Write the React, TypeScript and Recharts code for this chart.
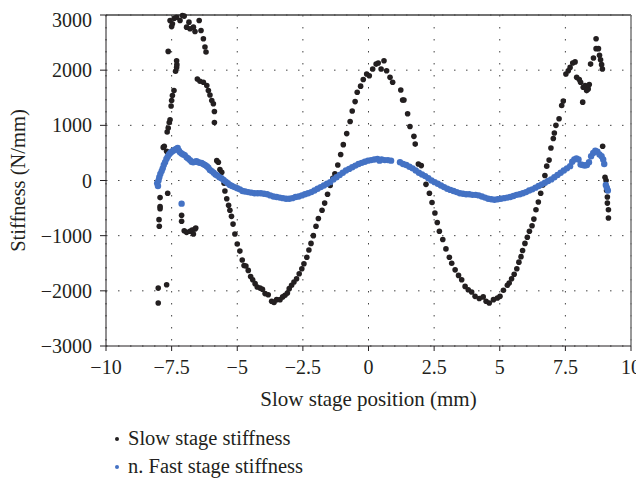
import { CartesianGrid, ReferenceLine, Scatter, ScatterChart, XAxis, YAxis } from "recharts";

const seriesNames = ["Slow stage stiffness", "n. Fast stage stiffness"];
const xTicks = [-10, -7.5, -5, -2.5, 0, 2.5, 5, 7.5, 10];
const yTicks = [-3000, -2000, -1000, 0, 1000, 2000, 3000];

// [position mm, stiffness N/mm]
const slowStage: [number, number][] = [
  [-8.01, -2220], [-8.01, -1950], [-7.69, -1890],
  [-7.97, -830], [-7.98, -710], [-7.94, -510], [-7.94, -470], [-7.94, -310], [-7.65, -230],
  [-7.82, 600], [-7.78, 620], [-7.69, 530],
  [-7.67, 880], [-7.63, 950], [-7.59, 1050], [-7.56, 1100], [-7.52, 1350], [-7.5, 1450],
  [-7.47, 1540], [-7.41, 1630], [-7.35, 1980], [-7.31, 2050], [-7.3, 2100], [-7.31, 2170], [-7.63, 2340],
  [-7.56, 2900], [-7.5, 2790], [-7.47, 2840], [-7.4, 2940], [-7.31, 2960], [-7.18, 2900],
  [-7.09, 2990], [-7.02, 2980], [-6.93, 2780], [-6.84, 2870], [-6.8, 2750], [-6.67, 2780],
  [-6.61, 2700], [-6.45, 2900], [-6.38, 2720], [-6.29, 2570], [-6.23, 2420], [-6.19, 2330],
  [-6.52, 1840], [-6.42, 1800], [-6.29, 1780], [-6.16, 1720], [-6.1, 1630], [-6.04, 1550],
  [-5.97, 1450], [-5.91, 1390], [-5.87, 1250], [-5.87, 1050],
  [-7.12, -630], [-7.12, -740], [-7.02, -910], [-6.93, -940], [-6.8, -920], [-6.72, -900],
  [-6.67, -970], [-6.61, -880], [-6.58, -860],
  [-5.78, 360], [-5.72, 330], [-5.66, 200], [-5.59, 150], [-5.5, -50], [-5.47, -190],
  [-5.4, -330], [-5.33, -450], [-5.28, -540], [-5.22, -650], [-5.16, -790], [-5.09, -970],
  [-5.0, -1150], [-4.9, -1280], [-4.81, -1440], [-4.74, -1540], [-4.67, -1550], [-4.58, -1630],
  [-4.49, -1740], [-4.41, -1800], [-4.32, -1870], [-4.24, -1930], [-4.13, -1950], [-4.04, -1970],
  [-3.94, -2050], [-3.82, -2070], [-3.69, -2190], [-3.6, -2210], [-3.5, -2160], [-3.37, -2160],
  [-3.27, -2110], [-3.18, -2080], [-3.09, -2040], [-3.02, -1960], [-2.93, -1900], [-2.84, -1840],
  [-2.74, -1780], [-2.64, -1690], [-2.54, -1600], [-2.46, -1510], [-2.35, -1390], [-2.27, -1260],
  [-2.19, -1140], [-2.1, -1000], [-2.0, -830], [-1.91, -690], [-1.77, -540], [-1.67, -410],
  [-1.56, -250], [-1.46, -90], [-1.36, 40], [-1.28, 120], [-1.17, 280], [-1.06, 470],
  [-0.96, 650], [-0.83, 850], [-0.7, 1070], [-0.62, 1260], [-0.51, 1430], [-0.43, 1600],
  [-0.3, 1710], [-0.2, 1830], [-0.07, 1930], [0.03, 1900], [0.16, 2020], [0.29, 2110],
  [0.37, 2130], [0.48, 2020], [0.59, 2170], [0.69, 1990], [0.82, 1870], [0.92, 1780],
  [1.23, 1640], [1.3, 1460], [1.35, 1460], [1.49, 1210], [1.58, 980], [1.73, 800],
  [1.78, 660], [1.9, 300], [2.01, 270], [2.19, -70], [2.32, -230], [2.42, -400],
  [2.53, -590], [2.62, -760], [2.7, -920], [2.83, -1070], [2.95, -1240], [3.08, -1390],
  [3.17, -1500], [3.3, -1620], [3.43, -1720], [3.55, -1800], [3.68, -1920], [3.8, -1980],
  [3.93, -2020], [4.06, -2100], [4.22, -2140], [4.37, -2110], [4.48, -2190], [4.6, -2220],
  [4.76, -2160], [4.91, -2130], [5.01, -2100], [5.14, -1990], [5.29, -1900], [5.36, -1860],
  [5.45, -1780], [5.55, -1700], [5.65, -1600], [5.73, -1480], [5.81, -1380], [5.87, -1270],
  [5.96, -1140], [6.05, -1030], [6.13, -920], [6.23, -820], [6.3, -700], [6.38, -530],
  [6.47, -390], [6.56, -230], [6.64, -80], [6.72, 90], [6.79, 260], [6.88, 370],
  [6.95, 590], [7.04, 760], [7.08, 860], [7.14, 1000], [7.26, 1120], [7.36, 1360],
  [7.42, 1440], [7.52, 1930], [7.61, 1990], [7.68, 2050], [7.78, 2130], [7.87, 2150],
  [7.93, 1870], [8.03, 1830], [8.08, 1780], [8.18, 1690], [8.25, 1720], [8.31, 1630],
  [8.37, 1660], [8.41, 1740], [8.16, 1420], [8.46, 2110], [8.57, 2220], [8.67, 2570],
  [8.67, 2390], [8.76, 2390], [8.8, 2270], [8.84, 2190], [8.88, 2100], [8.91, 2020],
  [8.92, 620], [9.01, 60], [9.05, 0], [9.07, -180], [9.1, -300], [9.1, -410],
  [9.14, -530], [9.14, -680],
];

const fastStage: [number, number][] = [
  [-8.05, -50], [-8.02, -100], [-8.0, 0], [-7.97, 60], [-7.93, 120], [-7.88, 170],
  [-7.84, 220], [-7.8, 280], [-7.75, 330], [-7.7, 390], [-7.65, 430], [-7.6, 470],
  [-7.55, 500], [-7.5, 520], [-7.44, 540], [-7.38, 560], [-7.32, 570], [-7.27, 590],
  [-7.22, 540], [-7.18, 510], [-7.12, 490], [-7.06, 470], [-7.0, 460], [-6.93, 420],
  [-6.87, 400], [-6.8, 370], [-6.74, 340], [-6.68, 330], [-6.61, 340], [-6.55, 350],
  [-6.48, 330], [-6.42, 320], [-6.36, 320], [-6.3, 300], [-6.23, 280], [-6.16, 260],
  [-6.1, 230], [-6.04, 190], [-5.97, 170], [-5.9, 140], [-5.83, 110], [-5.76, 90],
  [-5.68, 60], [-5.6, 40], [-5.52, 10], [-5.44, -20], [-5.36, -50], [-5.28, -80],
  [-5.2, -100], [-5.1, -120], [-5.0, -140], [-4.9, -160], [-4.8, -190], [-4.7, -200],
  [-4.58, -210], [-4.46, -220], [-4.34, -230], [-4.22, -230], [-4.1, -230], [-3.98, -240],
  [-3.86, -250], [-3.74, -270], [-3.62, -290], [-3.5, -300], [-3.38, -310], [-3.26, -320],
  [-3.14, -330], [-3.02, -330], [-2.9, -320], [-2.78, -300], [-2.66, -290], [-2.54, -270],
  [-2.42, -250], [-2.3, -230], [-2.18, -210], [-2.06, -180], [-1.94, -150], [-1.82, -120],
  [-1.7, -90], [-1.58, -60], [-1.46, -30], [-1.34, 20], [-1.22, 60], [-1.1, 100],
  [-0.98, 140], [-0.86, 180], [-0.74, 210], [-0.62, 240], [-0.5, 270], [-0.38, 300],
  [-0.26, 320], [-0.14, 340], [-0.02, 360], [0.1, 370], [0.22, 380], [0.34, 390],
  [0.42, 360], [0.5, 380], [0.62, 370], [0.74, 370], [0.86, 360],
  [1.2, 330], [1.32, 300], [1.44, 280], [1.56, 250], [1.68, 220], [1.8, 180],
  [1.92, 140], [2.04, 110], [2.16, 80], [2.28, 40], [2.4, 0], [2.52, -30],
  [2.64, -60], [2.76, -90], [2.88, -120], [3.0, -150], [3.12, -170], [3.24, -190],
  [3.36, -210], [3.48, -230], [3.6, -240], [3.72, -250], [3.84, -250], [3.96, -260],
  [4.08, -260], [4.2, -270], [4.32, -290], [4.44, -310], [4.56, -330], [4.68, -340],
  [4.8, -350], [4.92, -340], [5.04, -330], [5.16, -320], [5.28, -310], [5.4, -300],
  [5.52, -280], [5.64, -260], [5.76, -250], [5.88, -230], [6.0, -210], [6.12, -180],
  [6.24, -160], [6.36, -130], [6.48, -100], [6.6, -70], [6.72, -40], [6.84, -10],
  [6.96, 20], [7.08, 60], [7.2, 100], [7.32, 140], [7.44, 180], [7.56, 220],
  [7.68, 260], [7.76, 340], [7.84, 380], [7.92, 400], [8.0, 380], [8.08, 290],
  [8.16, 280], [8.24, 270], [8.32, 280], [8.4, 330], [8.48, 440], [8.56, 500],
  [8.64, 540], [8.72, 520], [8.8, 470], [8.88, 440], [8.94, 380], [8.98, 300],
  [9.04, -80], [9.08, -130], [9.12, -180],
  [-7.12, -420],
];

const COLORS = ["#231f20", "#4472c4"];
const FONT = '"Liberation Serif", "Times New Roman", serif';

const toPoints = (rows: [number, number][]) => rows.map(([x, y]) => ({ x, y }));
const fmt = (v: number) => (v < 0 ? "\u2212" + Math.abs(v) : String(v));

const dot = (color: string, r: number) => (p: any) =>
  <circle cx={p.cx} cy={p.cy} r={r} fill={color} />;

export default function App() {
  const tickStyle = { fontSize: 20, fill: "#231f20", fontFamily: FONT };
  return (
    <div style={{ position: "relative", width: 636, height: 473, fontFamily: FONT }}>
      <ScatterChart width={636} height={473} margin={{ top: 7, right: 13, bottom: 0, left: 0 }}>
        <CartesianGrid stroke="#444" strokeDasharray="1.5 10.5" />
        <XAxis
          type="number"
          dataKey="x"
          domain={[-10, 10]}
          ticks={xTicks}
          tickFormatter={fmt}
          height={135}
          stroke="#231f20"
          tickSize={5}
          tickMargin={9}
          tick={tickStyle}
          label={{
            value: "Slow stage position (mm)",
            position: "insideTop",
            offset: 45,
            style: { fontSize: 21, fill: "#231f20", fontFamily: FONT },
          }}
        />
        <YAxis
          type="number"
          dataKey="y"
          domain={[-3000, 3000]}
          ticks={yTicks}
          tickFormatter={fmt}
          width={98}
          stroke="#231f20"
          tickSize={6}
          tickMargin={8}
          tick={tickStyle}
          label={{
            value: "Stiffness (N/mm)",
            angle: -90,
            position: "insideLeft",
            offset: 10,
            style: { textAnchor: "middle", fontSize: 20.5, fill: "#231f20", fontFamily: FONT },
          }}
        />
        <ReferenceLine y={3000} stroke="#444" strokeWidth={1.5} />
        <ReferenceLine x={10} stroke="#777" strokeWidth={1.5} />
        <Scatter
          name={seriesNames[0]}
          data={toPoints(slowStage)}
          shape={dot(COLORS[0], 2.8)}
          isAnimationActive={false}
        />
        <Scatter
          name={seriesNames[1]}
          data={toPoints(fastStage)}
          shape={dot(COLORS[1], 3.2)}
          isAnimationActive={false}
        />
      </ScatterChart>
      <div style={{ position: "absolute", left: 107, top: 416.5, fontSize: 20.5, color: "#231f20" }}>
        {seriesNames.map((name, i) => (
          <div key={name} style={{ display: "flex", alignItems: "center", height: 28 }}>
            <span
              style={{ width: 4, height: 4, borderRadius: 2, background: COLORS[i], marginRight: 9 }}
            />
            <span>{name}</span>
          </div>
        ))}
      </div>
    </div>
  );
}
